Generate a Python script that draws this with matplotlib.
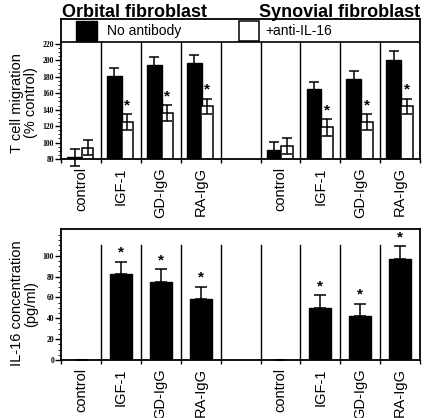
import numpy as np
import matplotlib
matplotlib.use("Agg")
import matplotlib.pyplot as plt
from matplotlib.patches import Rectangle
from matplotlib.ticker import FixedLocator

plt.rcParams['font.family'] = ['Liberation Sans', 'DejaVu Sans']

# --- data ---
categories = ["control", "IGF-1", "GD-IgG", "RA-IgG", "",
              "control", "IGF-1", "GD-IgG", "RA-IgG"]
# T cell migration (% control); blank slot has no bars
migr_noab = [82, 181, 194, 196.5, np.nan, 91, 165, 177.5, 201]
migr_noab_err = [10, 10, 10, 9.5, np.nan, 10, 9, 10, 10.5]
migr_anti = [94, 125, 136, 144, np.nan, 96, 118.5, 125, 144]
migr_anti_err = [9, 10, 10, 9.5, np.nan, 10, 10, 10, 9.5]
migr_star = [False, True, True, True, False, False, True, True, True]
# IL-16 concentration (pg/ml)
il16 = [0, 82, 75, 58, np.nan, 0, 50, 42, 97]
il16_err = [0, 12, 12, 12, np.nan, 0, 12, 12, 12]
il16_star = [False, True, True, True, False, False, True, True, True]

x = np.arange(len(categories))

fig = plt.figure(figsize=(4.25, 4.18), dpi=100)
ax1 = fig.add_axes([0.1435, 0.6196, 0.845, 0.335])
ax2 = fig.add_axes([0.1435, 0.1388, 0.845, 0.3134])

# ---------- top panel ----------
ax1.bar(x - 0.16, migr_noab, width=0.37, bottom=0, color="black", edgecolor="black", zorder=2)
ax1.bar(x + 0.165, migr_anti, width=0.29, color="white", edgecolor="black", linewidth=1.1, zorder=2)
ax1.errorbar(x - 0.16, migr_noab, yerr=migr_noab_err, fmt="none", ecolor="black",
             elinewidth=1.1, capsize=3.5, capthick=1.1, zorder=3, clip_on=False)
ax1.errorbar(x + 0.165, migr_anti, yerr=migr_anti_err, fmt="none", ecolor="black",
             elinewidth=1.1, capsize=3.5, capthick=1.1, zorder=3, clip_on=False)
for i in range(len(x)):
    if migr_star[i]:
        ax1.text(x[i] + 0.165, migr_anti[i] + migr_anti_err[i] + 2, "*", ha="center",
                 va="bottom", fontsize=11, fontweight="bold")

top_plot = 222.4
ax1.set_ylim(80, 250.4)
ax1.set_xlim(-0.5, 8.5)
ax1.axhline(top_plot, color="black", linewidth=1.2)
for d in np.arange(0.5, 8.5, 1.0):
    ax1.plot([d, d], [80, top_plot], color="black", linewidth=1.0, zorder=1)

ax1.yaxis.set_major_locator(FixedLocator(np.arange(80, 221, 20)))
ax1.yaxis.set_minor_locator(FixedLocator(np.arange(80, 221, 5)))
ax1.set_yticklabels([str(v) for v in range(80, 221, 20)], family="Liberation Serif",
                    fontsize=5.5, fontweight="bold")

# legend row
ax1.add_patch(Rectangle((0.042, 0.843), 0.058, 0.143, transform=ax1.transAxes,
                        facecolor="black", edgecolor="black", clip_on=False))
ax1.add_patch(Rectangle((0.496, 0.843), 0.056, 0.143, transform=ax1.transAxes,
                        facecolor="white", edgecolor="black", linewidth=1.1, clip_on=False))
ax1.text(0.128, 0.914, "No antibody", transform=ax1.transAxes, va="center", fontsize=10)
ax1.text(0.568, 0.914, "+anti-IL-16", transform=ax1.transAxes, va="center", fontsize=10)

ax1.set_ylabel("T cell migration\n(% control)", fontsize=10.5, linespacing=1.0)
ax1.yaxis.set_label_coords(-0.064, 0.4)

# ---------- bottom panel ----------
ax2.bar(x, il16, width=0.55, color="black", edgecolor="black", zorder=2)
ax2.errorbar(x, il16, yerr=[np.zeros(len(x)), il16_err], fmt="none", ecolor="black",
             elinewidth=1.1, capsize=4, capthick=1.1, zorder=3)
for i in range(len(x)):
    if il16_star[i]:
        ax2.text(x[i], il16[i] + il16_err[i] + 2, "*", ha="center", va="bottom",
                 fontsize=11, fontweight="bold")
ax2.set_ylim(0, 125.6)
ax2.set_xlim(-0.5, 8.5)
for d in np.arange(0.5, 8.5, 1.0):
    ax2.plot([d, d], [0, 110], color="black", linewidth=1.0, zorder=1)

ax2.yaxis.set_major_locator(FixedLocator(np.arange(0, 101, 20)))
ax2.yaxis.set_minor_locator(FixedLocator(np.arange(0, 121, 5)))
ax2.set_yticklabels([str(v) for v in range(0, 101, 20)], family="Liberation Serif",
                    fontsize=5.5, fontweight="bold")
ax2.set_ylabel("IL-16 concentration\n(pg/ml)", fontsize=10.5, linespacing=1.0)
ax2.yaxis.set_label_coords(-0.064, 0.43)

for ax in (ax1, ax2):
    ax.set_xticks(x)
    ax.set_xticklabels(categories, rotation=90, fontsize=10.5)
    ax.xaxis.set_minor_locator(FixedLocator(np.arange(-0.5, 9.0, 1.0)))
    ax.tick_params(axis="x", which="major", length=0, pad=6)
    ax.tick_params(axis="x", which="minor", length=3, width=1, direction="out")
    ax.tick_params(axis="y", which="major", length=4, width=1, direction="out", pad=1)
    ax.tick_params(axis="y", which="minor", length=2, width=0.6, direction="out")
    for s in ax.spines.values():
        s.set_linewidth(1.3)

fig.text(62 / 425, 1 - 17 / 418, "Orbital fibroblast", fontsize=13, fontweight="bold",
         ha="left", va="baseline")
fig.text(420 / 425, 1 - 17 / 418, "Synovial fibroblast", fontsize=13, fontweight="bold",
         ha="right", va="baseline")

fig.savefig("out.png", dpi=100)
